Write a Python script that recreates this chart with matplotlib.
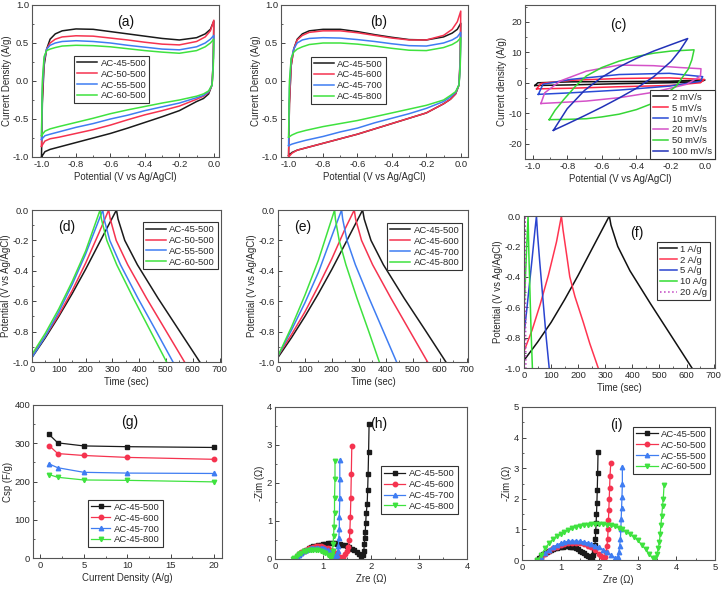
import matplotlib
matplotlib.use("Agg")
import matplotlib.pyplot as plt
from matplotlib.ticker import AutoMinorLocator, FormatStrFormatter

plt.rcParams['font.family'] = ['Liberation Sans', 'DejaVu Sans']
plt.rcParams['font.size'] = 6.8
plt.rcParams['axes.unicode_minus'] = False
plt.rcParams['text.color'] = '#2a2a2a'
plt.rcParams['axes.labelcolor'] = '#2a2a2a'
plt.rcParams['xtick.color'] = '#444444'
plt.rcParams['ytick.color'] = '#444444'
plt.rcParams['xtick.labelcolor'] = '#2a2a2a'
plt.rcParams['ytick.labelcolor'] = '#2a2a2a'

BLACK, RED, BLUE, GREEN = '#1a1a1a', '#f5334f', '#3f7df2', '#3fe23f'

# ---------------- (a) / (b) CV at 2 mV/s ----------------
cv_e_up = [-1.0, -0.995, -0.985, -0.97, -0.95, -0.92, -0.88, -0.8, -0.7, -0.6,
           -0.5, -0.4, -0.3, -0.2, -0.1, -0.05, -0.02, 0.0]
cv_e_dn = [0.0, -0.003, -0.01, -0.03, -0.06, -0.1, -0.2, -0.3, -0.4, -0.5,
           -0.6, -0.7, -0.8, -0.9, -0.95, -0.98, -1.0]

a_labels = ['AC-45-500', 'AC-50-500', 'AC-55-500', 'AC-60-500']
a_up = [
    [-1.0, -0.3, 0.2, 0.42, 0.55, 0.62, 0.66, 0.685, 0.68, 0.65, 0.62, 0.59, 0.56, 0.54, 0.57, 0.62, 0.68, 0.79],
    [-0.86, -0.2, 0.25, 0.42, 0.5, 0.55, 0.58, 0.595, 0.59, 0.565, 0.54, 0.51, 0.485, 0.475, 0.52, 0.58, 0.66, 0.8],
    [-0.77, -0.1, 0.28, 0.42, 0.47, 0.5, 0.52, 0.53, 0.52, 0.5, 0.47, 0.445, 0.42, 0.41, 0.45, 0.5, 0.55, 0.6],
    [-0.72, 0.0, 0.32, 0.4, 0.42, 0.44, 0.46, 0.47, 0.465, 0.45, 0.425, 0.4, 0.38, 0.365, 0.4, 0.45, 0.5, 0.55],
]
a_dn = [
    [0.79, 0.3, -0.05, -0.17, -0.23, -0.27, -0.39, -0.47, -0.545, -0.62, -0.69, -0.75, -0.81, -0.87, -0.9, -0.93, -1.0],
    [0.8, 0.3, -0.05, -0.15, -0.2, -0.24, -0.33, -0.39, -0.445, -0.51, -0.58, -0.64, -0.69, -0.74, -0.76, -0.79, -0.86],
    [0.6, 0.25, -0.05, -0.14, -0.19, -0.22, -0.29, -0.34, -0.39, -0.45, -0.5, -0.56, -0.61, -0.67, -0.7, -0.72, -0.77],
    [0.55, 0.2, -0.05, -0.13, -0.17, -0.2, -0.25, -0.29, -0.335, -0.38, -0.43, -0.49, -0.545, -0.6, -0.63, -0.66, -0.72],
]

b_labels = ['AC-45-500', 'AC-45-600', 'AC-45-700', 'AC-45-800']
b_up = [
    [-0.98, -0.3, 0.2, 0.42, 0.55, 0.62, 0.66, 0.68, 0.68, 0.65, 0.61, 0.575, 0.545, 0.54, 0.58, 0.63, 0.68, 0.76],
    [-1.0, -0.3, 0.2, 0.42, 0.54, 0.6, 0.64, 0.66, 0.66, 0.635, 0.6, 0.565, 0.54, 0.54, 0.6, 0.68, 0.78, 0.92],
    [-0.85, -0.1, 0.28, 0.42, 0.5, 0.54, 0.56, 0.57, 0.565, 0.545, 0.52, 0.49, 0.465, 0.46, 0.5, 0.54, 0.58, 0.64],
    [-0.74, 0.0, 0.3, 0.38, 0.42, 0.45, 0.48, 0.5, 0.5, 0.485, 0.46, 0.43, 0.405, 0.4, 0.44, 0.48, 0.52, 0.57],
]
b_dn = [
    [0.76, 0.3, -0.05, -0.17, -0.24, -0.3, -0.42, -0.49, -0.56, -0.63, -0.7, -0.76, -0.82, -0.88, -0.91, -0.94, -0.98],
    [0.92, 0.35, -0.05, -0.17, -0.24, -0.3, -0.42, -0.49, -0.56, -0.63, -0.7, -0.76, -0.82, -0.88, -0.91, -0.95, -1.0],
    [0.64, 0.25, -0.05, -0.15, -0.21, -0.27, -0.36, -0.43, -0.49, -0.55, -0.62, -0.67, -0.73, -0.78, -0.81, -0.83, -0.85],
    [0.57, 0.2, -0.05, -0.14, -0.19, -0.25, -0.32, -0.37, -0.42, -0.47, -0.52, -0.56, -0.6, -0.65, -0.68, -0.71, -0.74],
]

# ---------------- (c) CV of AC-45-500 at several scan rates ----------------
c_labels = ['2 mV/s', '5 mV/s', '10 mV/s', '20 mV/s', '50 mV/s', '100 mV/s']
c_colors = ['#111111', '#ff2444', '#2a4bd6', '#d452c8', '#36d636', '#2232b8']
c_x = [
    [-0.987, -0.97, -0.78, -0.5, -0.21, -0.004, -0.03, -0.21, -0.5, -0.78, -0.987],
    [-0.977, -0.95, -0.78, -0.5, -0.21, -0.008, -0.03, -0.21, -0.5, -0.78, -0.977],
    [-0.967, -0.94, -0.78, -0.5, -0.21, -0.017, -0.03, -0.21, -0.5, -0.78, -0.967],
    [-0.952, -0.93, -0.84, -0.69, -0.5, -0.3, -0.15, -0.027, -0.03, -0.11, -0.3, -0.5, -0.69, -0.85, -0.952],
    [-0.904, -0.87, -0.82, -0.75, -0.69, -0.6, -0.5, -0.4, -0.3, -0.2, -0.067,
     -0.08, -0.1, -0.17, -0.3, -0.4, -0.5, -0.6, -0.69, -0.8, -0.904],
    [-0.88, -0.8, -0.7, -0.6, -0.5, -0.4, -0.3, -0.2, -0.104,
     -0.15, -0.2, -0.3, -0.4, -0.5, -0.6, -0.7, -0.8, -0.88],
]
c_y = [
    [-0.9, 0.0, 0.3, 0.4, 0.5, 0.9, 0.3, 0.0, -0.3, -0.7, -0.9],
    [-2.0, -0.2, 0.8, 1.4, 1.6, 1.1, 0.0, -0.9, -1.3, -1.8, -2.0],
    [-3.8, -0.5, 1.1, 2.7, 3.1, 2.0, 0.5, -1.1, -2.4, -3.3, -3.8],
    [-6.8, -3.3, 0.6, 3.8, 5.8, 5.6, 5.0, 4.6, 2.2, -0.5, -3.1, -4.9, -6.0, -6.5, -6.8],
    [-12.1, -9.0, -5.5, -1.0, 2.2, 5.0, 7.1, 8.6, 9.7, 10.4, 10.8,
     7.5, 4.5, -1.1, -6.6, -8.8, -10.3, -11.2, -11.8, -12.0, -12.1],
    [-15.6, -8.5, -2.5, 1.8, 5.2, 8.0, 10.4, 12.5, 14.5,
     10.5, 7.0, 2.0, -1.8, -5.0, -8.0, -10.8, -13.5, -15.6],
]

# ---------------- (d) / (e) / (f) charge-discharge ----------------
d_t = [
    [0, 50, 100, 150, 200, 250, 315, 321, 346, 393, 470, 548, 626],
    [0, 50, 100, 150, 200, 250, 286, 292, 314, 357, 427, 498, 569],
    [0, 50, 100, 150, 200, 264, 269, 290, 330, 395, 461, 526],
    [0, 50, 100, 150, 200, 254, 259, 279, 316, 378, 440, 502],
]
d_v = [
    [-0.97, -0.84, -0.70, -0.55, -0.39, -0.22, 0.0, -0.06, -0.2, -0.36, -0.58, -0.79, -1.0],
    [-0.96, -0.83, -0.69, -0.53, -0.35, -0.15, 0.0, -0.06, -0.2, -0.36, -0.58, -0.79, -1.0],
    [-0.97, -0.83, -0.67, -0.49, -0.29, 0.0, -0.06, -0.2, -0.36, -0.58, -0.79, -1.0],
    [-0.95, -0.81, -0.65, -0.47, -0.27, 0.0, -0.06, -0.2, -0.36, -0.58, -0.79, -1.0],
]
e_t = [
    [0, 50, 100, 150, 200, 250, 314, 320, 345, 391, 468, 546, 623],
    [0, 50, 100, 150, 200, 250, 283, 288, 310, 351, 419, 487, 555],
    [0, 50, 100, 150, 200, 236, 240, 256, 287, 338, 389, 440],
    [0, 50, 100, 150, 210, 213, 227, 252, 293, 335, 376],
]
e_v = [
    [-0.97, -0.84, -0.70, -0.55, -0.39, -0.22, 0.0, -0.06, -0.2, -0.36, -0.58, -0.79, -1.0],
    [-0.96, -0.82, -0.67, -0.50, -0.32, -0.12, 0.0, -0.06, -0.2, -0.36, -0.58, -0.79, -1.0],
    [-0.96, -0.79, -0.61, -0.41, -0.17, 0.0, -0.06, -0.2, -0.36, -0.58, -0.79, -1.0],
    [-0.96, -0.77, -0.56, -0.33, 0.0, -0.06, -0.2, -0.36, -0.58, -0.79, -1.0],
]
f_labels = ['1 A/g', '2 A/g', '5 A/g', '10 A/g', '20 A/g']
f_colors = ['#111111', '#ff3450', '#2a44d0', '#33dd33', '#c040c0']
f_t = [
    [0, 50, 100, 150, 200, 250, 315, 321, 346, 391, 468, 544, 620],
    [0, 30, 60, 90, 120, 138, 144, 157, 169, 188, 219, 243, 274],
    [0, 10, 20, 30, 40, 46, 50, 58, 70, 82, 93],
    [0, 5, 10, 15, 18, 22, 26, 31],
    [0, 1.5, 3, 5, 7],
]
f_v = [
    [-0.95, -0.83, -0.70, -0.55, -0.39, -0.22, 0.0, -0.06, -0.2, -0.36, -0.58, -0.79, -1.0],
    [-0.89, -0.75, -0.58, -0.39, -0.17, 0.0, -0.09, -0.25, -0.40, -0.53, -0.70, -0.84, -1.0],
    [-0.78, -0.62, -0.45, -0.28, -0.10, 0.0, -0.12, -0.30, -0.55, -0.80, -1.0],
    [-0.62, -0.42, -0.2, 0.0, -0.25, -0.5, -0.75, -1.0],
    [-0.55, -0.25, 0.0, -0.5, -1.0],
]

# ---------------- (g) specific capacitance ----------------
g_current = [1, 2, 5, 10, 20]
g_csp = [
    [323, 301, 293, 291, 289],
    [294, 273, 268, 263, 258],
    [246, 236, 224, 222, 221],
    [218, 211, 204, 203, 199],
]
markers = ['s', 'o', '^', 'v']

# ---------------- (h) / (i) Nyquist ----------------
h_zre = [
    [0.42, 0.45, 0.5, 0.55, 0.6, 0.65, 0.7, 0.75, 0.8, 0.85, 0.9, 0.95, 1.0, 1.05, 1.1, 1.15, 1.2,
     1.25, 1.3, 1.35, 1.4, 1.45, 1.5, 1.55, 1.6, 1.65, 1.7, 1.75, 1.8,
     1.83, 1.85, 1.86, 1.87, 1.88, 1.89, 1.9, 1.92, 1.93, 1.94, 1.95, 1.96],
    [0.40, 0.45, 0.5, 0.55, 0.6, 0.65, 0.7, 0.75, 0.8, 0.85, 0.9, 0.95, 1.0, 1.05, 1.1, 1.15,
     1.2, 1.25, 1.3, 1.35,
     1.38, 1.42, 1.46, 1.5, 1.53, 1.55, 1.56, 1.57, 1.58, 1.59, 1.6],
    [0.42, 0.45, 0.5, 0.55, 0.6, 0.65, 0.7, 0.75, 0.8, 0.85, 0.9, 0.95, 1.0, 1.05, 1.1, 1.15,
     1.2, 1.25,
     1.28, 1.3, 1.31, 1.32, 1.33, 1.34, 1.34, 1.35, 1.35, 1.35],
    [0.38, 0.4, 0.45, 0.5, 0.55, 0.6, 0.65, 0.7, 0.75, 0.8, 0.85, 0.9, 0.95, 1.0, 1.05, 1.1, 1.15,
     1.17, 1.19, 1.2, 1.21, 1.22, 1.23, 1.24, 1.24, 1.25, 1.25],
]
h_zim = [
    [0.0, 0.06, 0.12, 0.17, 0.21, 0.25, 0.28, 0.31, 0.33, 0.35, 0.37, 0.38, 0.39, 0.40, 0.41, 0.41, 0.41,
     0.41, 0.40, 0.39, 0.38, 0.36, 0.34, 0.31, 0.27, 0.23, 0.18, 0.13, 0.08,
     0.10, 0.2, 0.39, 0.54, 0.72, 0.94, 1.2, 1.44, 1.81, 2.25, 2.82, 3.54],
    [0.0, 0.07, 0.13, 0.18, 0.22, 0.25, 0.28, 0.30, 0.32, 0.33, 0.33, 0.33, 0.32, 0.30, 0.28, 0.25,
     0.21, 0.16, 0.10, 0.04,
     0.03, 0.06, 0.12, 0.2, 0.32, 0.5, 0.75, 1.1, 1.6, 2.25, 2.97],
    [0.0, 0.05, 0.11, 0.16, 0.2, 0.23, 0.26, 0.28, 0.29, 0.30, 0.30, 0.29, 0.28, 0.26, 0.23, 0.19,
     0.14, 0.08,
     0.05, 0.1, 0.2, 0.35, 0.55, 0.8, 1.1, 1.6, 2.1, 2.6],
    [0.0, 0.03, 0.09, 0.13, 0.17, 0.20, 0.22, 0.24, 0.25, 0.25, 0.25, 0.24, 0.22, 0.19, 0.15, 0.10, 0.05,
     0.03, 0.1, 0.22, 0.4, 0.6, 0.85, 1.2, 1.6, 2.1, 2.58],
]
i_labels = ['AC-45-500', 'AC-50-500', 'AC-55-500', 'AC-60-500']
i_zre = [
    [0.4, 0.45, 0.5, 0.55, 0.6, 0.65, 0.7, 0.75, 0.8, 0.85, 0.9, 0.95, 1.0, 1.05, 1.1, 1.15, 1.2,
     1.25, 1.3, 1.35, 1.4, 1.45, 1.5, 1.55, 1.6, 1.65, 1.7, 1.75, 1.8,
     1.82, 1.85, 1.87, 1.89, 1.9, 1.91, 1.92, 1.93, 1.94, 1.95, 1.96, 1.97],
    [0.45, 0.5, 0.6, 0.7, 0.8, 0.9, 1.0, 1.1, 1.2, 1.3, 1.4, 1.5, 1.6, 1.7, 1.8, 1.9, 2.0, 2.05, 2.1,
     2.14, 2.18, 2.2, 2.22, 2.23, 2.24, 2.25, 2.26, 2.27, 2.28, 2.3],
    [0.45, 0.5, 0.6, 0.7, 0.8, 0.9, 1.0, 1.1, 1.2, 1.3, 1.4, 1.5, 1.6, 1.7, 1.8, 1.9, 2.0, 2.1,
     2.2, 2.3, 2.4, 2.45,
     2.48, 2.51, 2.53, 2.55, 2.56, 2.57, 2.58, 2.59, 2.6, 2.6],
    [0.4, 0.5, 0.6, 0.7, 0.8, 0.9, 1.0, 1.1, 1.2, 1.3, 1.4, 1.5, 1.6, 1.7, 1.8, 1.9, 2.0, 2.1,
     2.2, 2.3, 2.4, 2.5, 2.6, 2.7, 2.8, 2.9, 3.0, 3.1, 3.2, 3.3, 3.4,
     3.45, 3.5, 3.53, 3.56, 3.58, 3.6, 3.62, 3.64, 3.66, 3.68],
]
i_zim = [
    [0.0, 0.07, 0.13, 0.18, 0.23, 0.27, 0.30, 0.33, 0.36, 0.38, 0.40, 0.42, 0.43, 0.44, 0.45, 0.45, 0.45,
     0.44, 0.43, 0.41, 0.38, 0.35, 0.31, 0.27, 0.22, 0.17, 0.12, 0.08, 0.05,
     0.08, 0.15, 0.3, 0.5, 0.7, 0.95, 1.2, 1.5, 1.85, 2.3, 2.85, 3.52],
    [0.0, 0.08, 0.2, 0.3, 0.38, 0.44, 0.49, 0.52, 0.54, 0.55, 0.55, 0.54, 0.51, 0.47, 0.41, 0.32, 0.2, 0.12, 0.06,
     0.1, 0.25, 0.45, 0.7, 1.0, 1.3, 1.65, 2.0, 2.35, 2.75, 3.17],
    [0.0, 0.09, 0.22, 0.33, 0.42, 0.49, 0.54, 0.58, 0.61, 0.62, 0.62, 0.61, 0.59, 0.56, 0.52, 0.47, 0.41, 0.34,
     0.26, 0.17, 0.08, 0.05,
     0.1, 0.25, 0.45, 0.7, 1.0, 1.35, 1.7, 2.05, 2.5, 3.05],
    [0.0, 0.17, 0.38, 0.55, 0.68, 0.78, 0.85, 0.92, 0.98, 1.03, 1.08, 1.11, 1.14, 1.16, 1.17, 1.18, 1.18, 1.17,
     1.15, 1.13, 1.1, 1.06, 1.0, 0.93, 0.85, 0.75, 0.64, 0.5, 0.35, 0.18, 0.05,
     0.08, 0.2, 0.38, 0.6, 0.85, 1.15, 1.45, 1.75, 2.0, 2.45],
]

colors4 = [BLACK, RED, BLUE, GREEN]
W, H = 723, 589
fig = plt.figure(figsize=(W / 100, H / 100), dpi=100)


def panel(left, top, right, bottom):
    return fig.add_axes([left / W, 1 - bottom / H, (right - left) / W, (bottom - top) / H])


def style(ax, xlabel, ylabel, xlim, ylim, xticks, yticks, tag, tag_xy, xfmt=None, yfmt=None):
    ax.set_xlim(xlim)
    ax.set_ylim(ylim)
    ax.set_xticks(xticks)
    ax.set_yticks(yticks)
    if xfmt:
        ax.xaxis.set_major_formatter(FormatStrFormatter(xfmt))
    if yfmt:
        ax.yaxis.set_major_formatter(FormatStrFormatter(yfmt))
    ax.xaxis.set_minor_locator(AutoMinorLocator(2))
    ax.yaxis.set_minor_locator(AutoMinorLocator(2))
    ax.tick_params(which='both', direction='in', top=False, right=False, labelsize=6.8, pad=2)
    ax.tick_params(which='major', length=3, width=0.7)
    ax.tick_params(which='minor', length=1.6, width=0.6)
    for s in ax.spines.values():
        s.set_color('#555555')
        s.set_linewidth(0.8)
    ax.set_xlabel(xlabel, fontsize=6.9, labelpad=2)
    ax.set_ylabel(ylabel, fontsize=6.9, labelpad=1)
    ax.text(tag_xy[0], tag_xy[1], tag, transform=ax.transAxes, fontsize=10,
            ha='center', va='center', color='#111111')


def legend(ax, loc, anchor, hl=2.1, fs=6.8):
    leg = ax.legend(loc=loc, bbox_to_anchor=anchor, fontsize=fs, frameon=True, fancybox=False,
                    edgecolor='#333333', framealpha=1, borderpad=0.3, labelspacing=0.2,
                    handlelength=hl, handletextpad=0.4, borderaxespad=0)
    leg.get_frame().set_linewidth(0.8)


# (a)
ax = panel(32, 5, 219, 157)
for k in range(4):
    ax.plot(cv_e_up + cv_e_dn[1:], a_up[k] + a_dn[k][1:], color=colors4[k], lw=1.1, label=a_labels[k])
style(ax, 'Potential (V vs Ag/AgCl)', 'Current Density (A/g)', (-1.055, 0.03), (-1, 1),
      [-1.0, -0.8, -0.6, -0.4, -0.2, 0.0], [-1.0, -0.5, 0.0, 0.5, 1.0], '(a)', (0.5, 0.89), '%.1f', '%.1f')
legend(ax, 'upper left', (0.225, 0.665))

# (b)
ax = panel(281, 5, 468, 157)
for k in range(4):
    ax.plot(cv_e_up + cv_e_dn[1:], b_up[k] + b_dn[k][1:], color=colors4[k], lw=1.1, label=b_labels[k])
style(ax, 'Potential (V vs Ag/AgCl)', 'Current Density (A/g)', (-1.044, 0.042), (-1, 1),
      [-1.0, -0.8, -0.6, -0.4, -0.2, 0.0], [-1.0, -0.5, 0.0, 0.5, 1.0], '(b)', (0.52, 0.89), '%.1f', '%.1f')
legend(ax, 'upper left', (0.16, 0.66))

# (c)
ax = panel(525, 5, 715, 159)
for k in range(6):
    ax.plot(c_x[k], c_y[k], color=c_colors[k], lw=1.1, label=c_labels[k])
style(ax, 'Potential (V vs Ag/AgCl)', 'Current density (A/g)', (-1.044, 0.054), (-25, 25.5),
      [-1.0, -0.8, -0.6, -0.4, -0.2, 0.0], [-20, -10, 0, 10, 20], '(c)', (0.49, 0.87), '%.1f', '%d')
legend(ax, 'lower right', (1.0, 0.0), hl=1.6)

# (d)
ax = panel(32, 210, 221, 362)
for k in range(4):
    ax.plot(d_t[k], d_v[k], color=colors4[k], lw=1.1, label=a_labels[k])
style(ax, 'Time (sec)', 'Potential (V vs Ag/AgCl)', (0, 705), (-1, 0),
      range(0, 701, 100), [-1.0, -0.8, -0.6, -0.4, -0.2, 0.0], '(d)', (0.185, 0.89), '%d', '%.1f')
legend(ax, 'upper right', (0.984, 0.92))

# (e)
ax = panel(278, 210, 468, 362)
for k in range(4):
    ax.plot(e_t[k], e_v[k], color=colors4[k], lw=1.1, label=b_labels[k])
style(ax, 'Time (sec)', 'Potential (V vs Ag/AgCl)', (0, 705), (-1, 0),
      range(0, 701, 100), [-1.0, -0.8, -0.6, -0.4, -0.2, 0.0], '(e)', (0.13, 0.89), '%d', '%.1f')
legend(ax, 'upper right', (0.97, 0.915))

# (f)
ax = panel(524, 216, 715, 368)
for k in range(5):
    ls = ':' if k == 4 else '-'
    ax.plot(f_t[k], f_v[k], color=f_colors[k], lw=1.1, ls=ls, label=f_labels[k])
style(ax, 'Time (sec)', 'Potential (V vs Ag/AgCl)', (0, 705), (-1, 0),
      range(0, 701, 100), [-1.0, -0.8, -0.6, -0.4, -0.2, 0.0], '(f)', (0.59, 0.89), '%d', '%.1f')
legend(ax, 'upper right', (0.975, 0.83), hl=1.8)

# (g)
ax = panel(33, 405, 222, 558)
for k in range(4):
    ax.plot(g_current, g_csp[k], color=colors4[k], lw=0.9, marker=markers[k], ms=3.2,
            label=b_labels[k])
style(ax, 'Current Density (A/g)', 'Csp (F/g)', (-0.85, 20.9), (0, 400),
      [0, 5, 10, 15, 20], [0, 100, 200, 300, 400], '(g)', (0.51, 0.89), '%d', '%d')
legend(ax, 'lower left', (0.29, 0.07))

# (h)
ax = panel(275, 407, 467, 559)
for k in range(4):
    ax.plot(h_zre[k], h_zim[k], color=colors4[k], lw=0.9, marker=markers[k], ms=3.2,
            label=b_labels[k])
style(ax, 'Zre (Ω)', '-Zim (Ω)', (0, 4), (0, 4),
      [0, 1, 2, 3, 4], [0, 1, 2, 3, 4], '(h)', (0.54, 0.89), '%d', '%d')
legend(ax, 'upper right', (0.953, 0.61), hl=2.3)

# (i)
ax = panel(522, 407, 715, 560)
for k in range(4):
    ax.plot(i_zre[k], i_zim[k], color=colors4[k], lw=0.9, marker=markers[k], ms=3.2,
            label=i_labels[k])
style(ax, 'Zre (Ω)', '-Zim (Ω)', (0, 5), (0, 5),
      [0, 1, 2, 3, 4, 5], [0, 1, 2, 3, 4, 5], '(i)', (0.49, 0.88), '%d', '%d')
legend(ax, 'upper right', (0.974, 0.87), hl=2.3)

fig.savefig('out.png', dpi=100)
